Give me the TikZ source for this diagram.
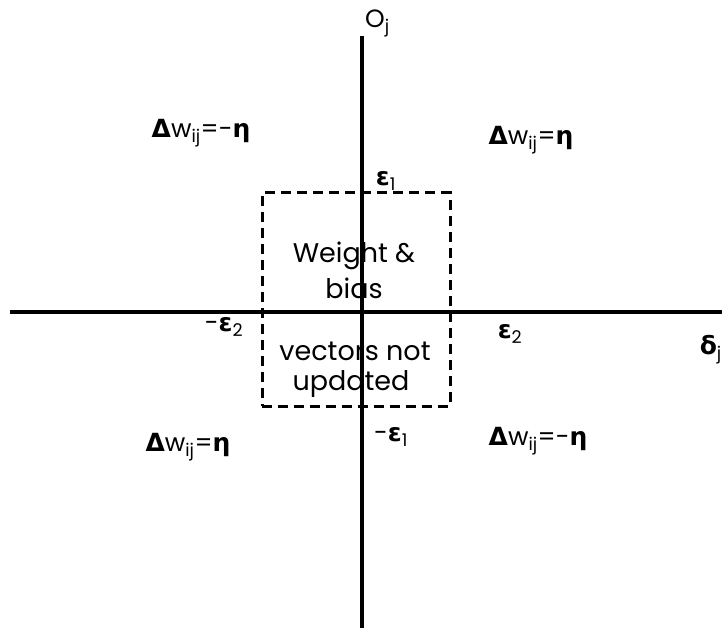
\documentclass[tikz,border=0pt]{standalone}
\usepackage{fontspec}
\setmainfont{Poppins}
\newfontfamily\grk{DejaVu Sans}
\usetikzlibrary{positioning}
\newcommand{\gbold}[1]{{\grk\bfseries #1}}
\newcommand{\dwij}[1]{\gbold{Δ}w\textsubscript{ij}=#1}

\begin{document}
\begin{tikzpicture}[
  x=1pt,y=-1pt,
  axis/.style={line width=3.3pt},
  zonebox/.style={draw,line width=3pt,dash pattern=on 10pt off 6pt,minimum width=188pt,minimum height=213pt,inner sep=0pt},
  lbl/.style={inner sep=0pt,font=\fontsize{25}{28}\selectfont},
  zonetext/.style={inner sep=0pt,anchor=base,font=\fontsize{27}{30}\selectfont}
]
\useasboundingbox (0,0) rectangle (722,628);
% axes
\coordinate (ytop) at (362,36);
\coordinate (ybot) at (362,630);
\coordinate (xleft) at (10,312);
\coordinate (xright) at (724,312);
\draw[axis] (ytop) -- (ybot);
\draw[axis] (xleft) -- (xright);
\node[lbl,anchor=south west] (oj) at (365,37) {O\textsubscript{j}};
\node[lbl,anchor=east] (dj) at (722,350) {\gbold{δ}\textsubscript{j}};
% dead zone
\node[zonebox] (zone) at (356,299.5) {};
\node[zonetext] (w1) at (354,262) {Weight \&};
\node[zonetext] (w2) at (354,298) {bias};
\node[zonetext] (w3) at (355,360) {vectors not};
\node[zonetext] (w4) at (351,390) {updated};
% thresholds
\node[lbl] (e1) at (386,181) {\gbold{ε}\textsubscript{1}};
\node[lbl] (me1) at (391,437) {-\gbold{ε}\textsubscript{1}};
\node[lbl] (me2) at (224,327) {-\gbold{ε}\textsubscript{2}};
\node[lbl] (e2) at (510,334) {\gbold{ε}\textsubscript{2}};
% updates
\node[lbl] (tl) at (201,133) {\dwij{-\gbold{η}}};
\node[lbl] (tr) at (531,140) {\dwij{\gbold{η}}};
\node[lbl] (bl) at (188,447) {\dwij{\gbold{η}}};
\node[lbl] (br) at (538,441) {\dwij{-\gbold{η}}};
\end{tikzpicture}
\end{document}
